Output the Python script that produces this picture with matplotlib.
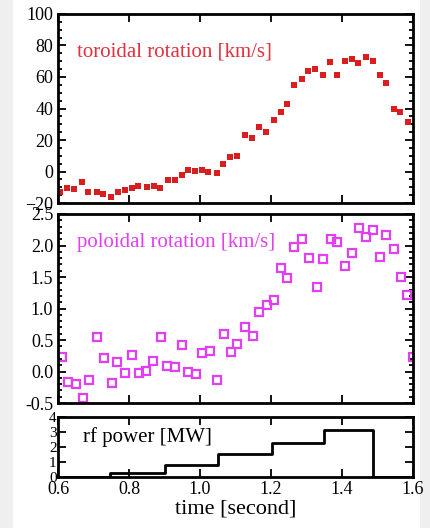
import numpy as np
import matplotlib.pyplot as plt
from matplotlib.ticker import MultipleLocator
from matplotlib.patches import Rectangle

plt.rcParams['font.family'] = ['Liberation Serif', 'DejaVu Serif']

# toroidal rotation [km/s]
t_tor = [0.606, 0.624, 0.645, 0.667, 0.685, 0.709, 0.727, 0.749, 0.769, 0.789,
         0.808, 0.826, 0.850, 0.870, 0.887, 0.910, 0.930, 0.948, 0.965, 0.986,
         1.005, 1.023, 1.047, 1.066, 1.085, 1.105, 1.127, 1.146, 1.167, 1.187,
         1.207, 1.228, 1.246, 1.265, 1.287, 1.305, 1.325, 1.346, 1.366, 1.387,
         1.408, 1.427, 1.446, 1.468, 1.486, 1.507, 1.525, 1.546, 1.563, 1.587]
v_tor = [-12.8, -10.7, -11.0, -6.5, -12.8, -13.3, -14.0, -16.0, -13.0, -12.0,
         -10.5, -9.5, -10.0, -9.0, -10.5, -5.7, -5.7, -2.5, 1.2, 0.4,
         1.2, -0.3, -1.0, 5.0, 9.5, 9.8, 23.0, 21.5, 28.0, 25.2,
         32.6, 38.0, 43.0, 54.8, 59.0, 64.0, 65.0, 61.2, 69.6, 61.2,
         70.0, 71.5, 68.6, 72.6, 70.0, 61.5, 56.0, 39.4, 37.9, 31.5]

# poloidal rotation [km/s]
t_pol = [0.610, 0.629, 0.651, 0.670, 0.688, 0.709, 0.730, 0.751, 0.767, 0.789,
         0.808, 0.829, 0.847, 0.868, 0.889, 0.908, 0.930, 0.948, 0.967, 0.989,
         1.006, 1.028, 1.047, 1.068, 1.086, 1.105, 1.127, 1.148, 1.167, 1.188,
         1.208, 1.228, 1.246, 1.266, 1.286, 1.308, 1.329, 1.347, 1.368, 1.387,
         1.408, 1.427, 1.449, 1.468, 1.486, 1.507, 1.525, 1.546, 1.566, 1.584,
         1.600]
v_pol = [0.23, -0.16, -0.20, -0.42, -0.13, 0.54, 0.22, -0.19, 0.15, -0.02,
         0.27, -0.03, 0.01, 0.17, 0.55, 0.08, 0.07, 0.42, -0.01, -0.04,
         0.29, 0.33, -0.13, 0.59, 0.31, 0.43, 0.70, 0.56, 0.94, 1.06,
         1.13, 1.64, 1.49, 1.97, 2.10, 1.80, 1.34, 1.78, 2.11, 2.06,
         1.68, 1.88, 2.27, 2.13, 2.24, 1.81, 2.17, 1.94, 1.50, 1.22,
         0.23]

# rf power [MW]
t_rf = [0.600, 0.746, 0.901, 1.052, 1.203, 1.350, 1.488, 1.600]
p_rf = [0.0, 0.28, 0.83, 1.56, 2.29, 3.15, 0.0, 0.0]

xticks = [0.6, 0.8, 1.0, 1.2, 1.4, 1.6]

fig = plt.figure(figsize=(4.31, 5.28), dpi=100, facecolor='#efefef')
fig.patches.append(Rectangle((0.03, 0), 0.945, 1, transform=fig.transFigure,
                             facecolor='white', edgecolor='none', zorder=-1))

ax1 = fig.add_axes([0.1346, 0.6155, 0.8237, 0.358])
ax2 = fig.add_axes([0.1346, 0.2367, 0.8237, 0.358])
ax3 = fig.add_axes([0.1346, 0.0966, 0.8237, 0.1136])

ax1.plot(t_tor, v_tor, 's', color='#d81e1e', ms=5, mew=0)
ax1.set_ylim(-20, 100)
ax1.yaxis.set_major_locator(MultipleLocator(20))
ax1.yaxis.set_minor_locator(MultipleLocator(5))
ax1.text(0.054, 0.80, 'toroidal rotation [km/s]', transform=ax1.transAxes,
         color='#e2303f', fontsize=15, va='center')

ax2.plot(t_pol, v_pol, 's', mfc='none', mec='#e040f0', ms=5.2, mew=1.6)
ax2.set_ylim(-0.5, 2.5)
ax2.yaxis.set_major_locator(MultipleLocator(0.5))
ax2.yaxis.set_minor_locator(MultipleLocator(0.1))
ax2.yaxis.set_major_formatter(plt.FormatStrFormatter('%.1f'))
ax2.text(0.054, 0.847, 'poloidal rotation [km/s]', transform=ax2.transAxes,
         color='#e040f0', fontsize=15, va='center')

ax3.plot(t_rf, p_rf, color='black', lw=2, drawstyle='steps-post')
ax3.set_ylim(0, 4)
ax3.set_yticks([0, 1, 2, 3, 4])
ax3.text(0.07, 0.667, 'rf power [MW]', transform=ax3.transAxes,
         color='black', fontsize=15, va='center')
ax3.set_xlabel('time [second]', fontsize=16, labelpad=1)

for ax in (ax1, ax2, ax3):
    ax.set_xlim(0.6, 1.6)
    ax.set_xticks(xticks)
    for s in ax.spines.values():
        s.set_linewidth(2)
    ax.tick_params(which='both', direction='in', top=True, right=True,
                   labelsize=13, width=1.3)
    ax.tick_params(which='major', length=6)
    ax.tick_params(which='minor', length=3)

ax1.tick_params(labelbottom=False)
ax2.tick_params(labelbottom=False)
ax3.tick_params(axis='y', pad=1, labelsize=11)
ax3.tick_params(axis='x', pad=3)
ax3.set_xticklabels(['0.6', '0.8', '1.0', '1.2', '1.4', '1.6'])

plt.savefig('out.png', dpi=100)
